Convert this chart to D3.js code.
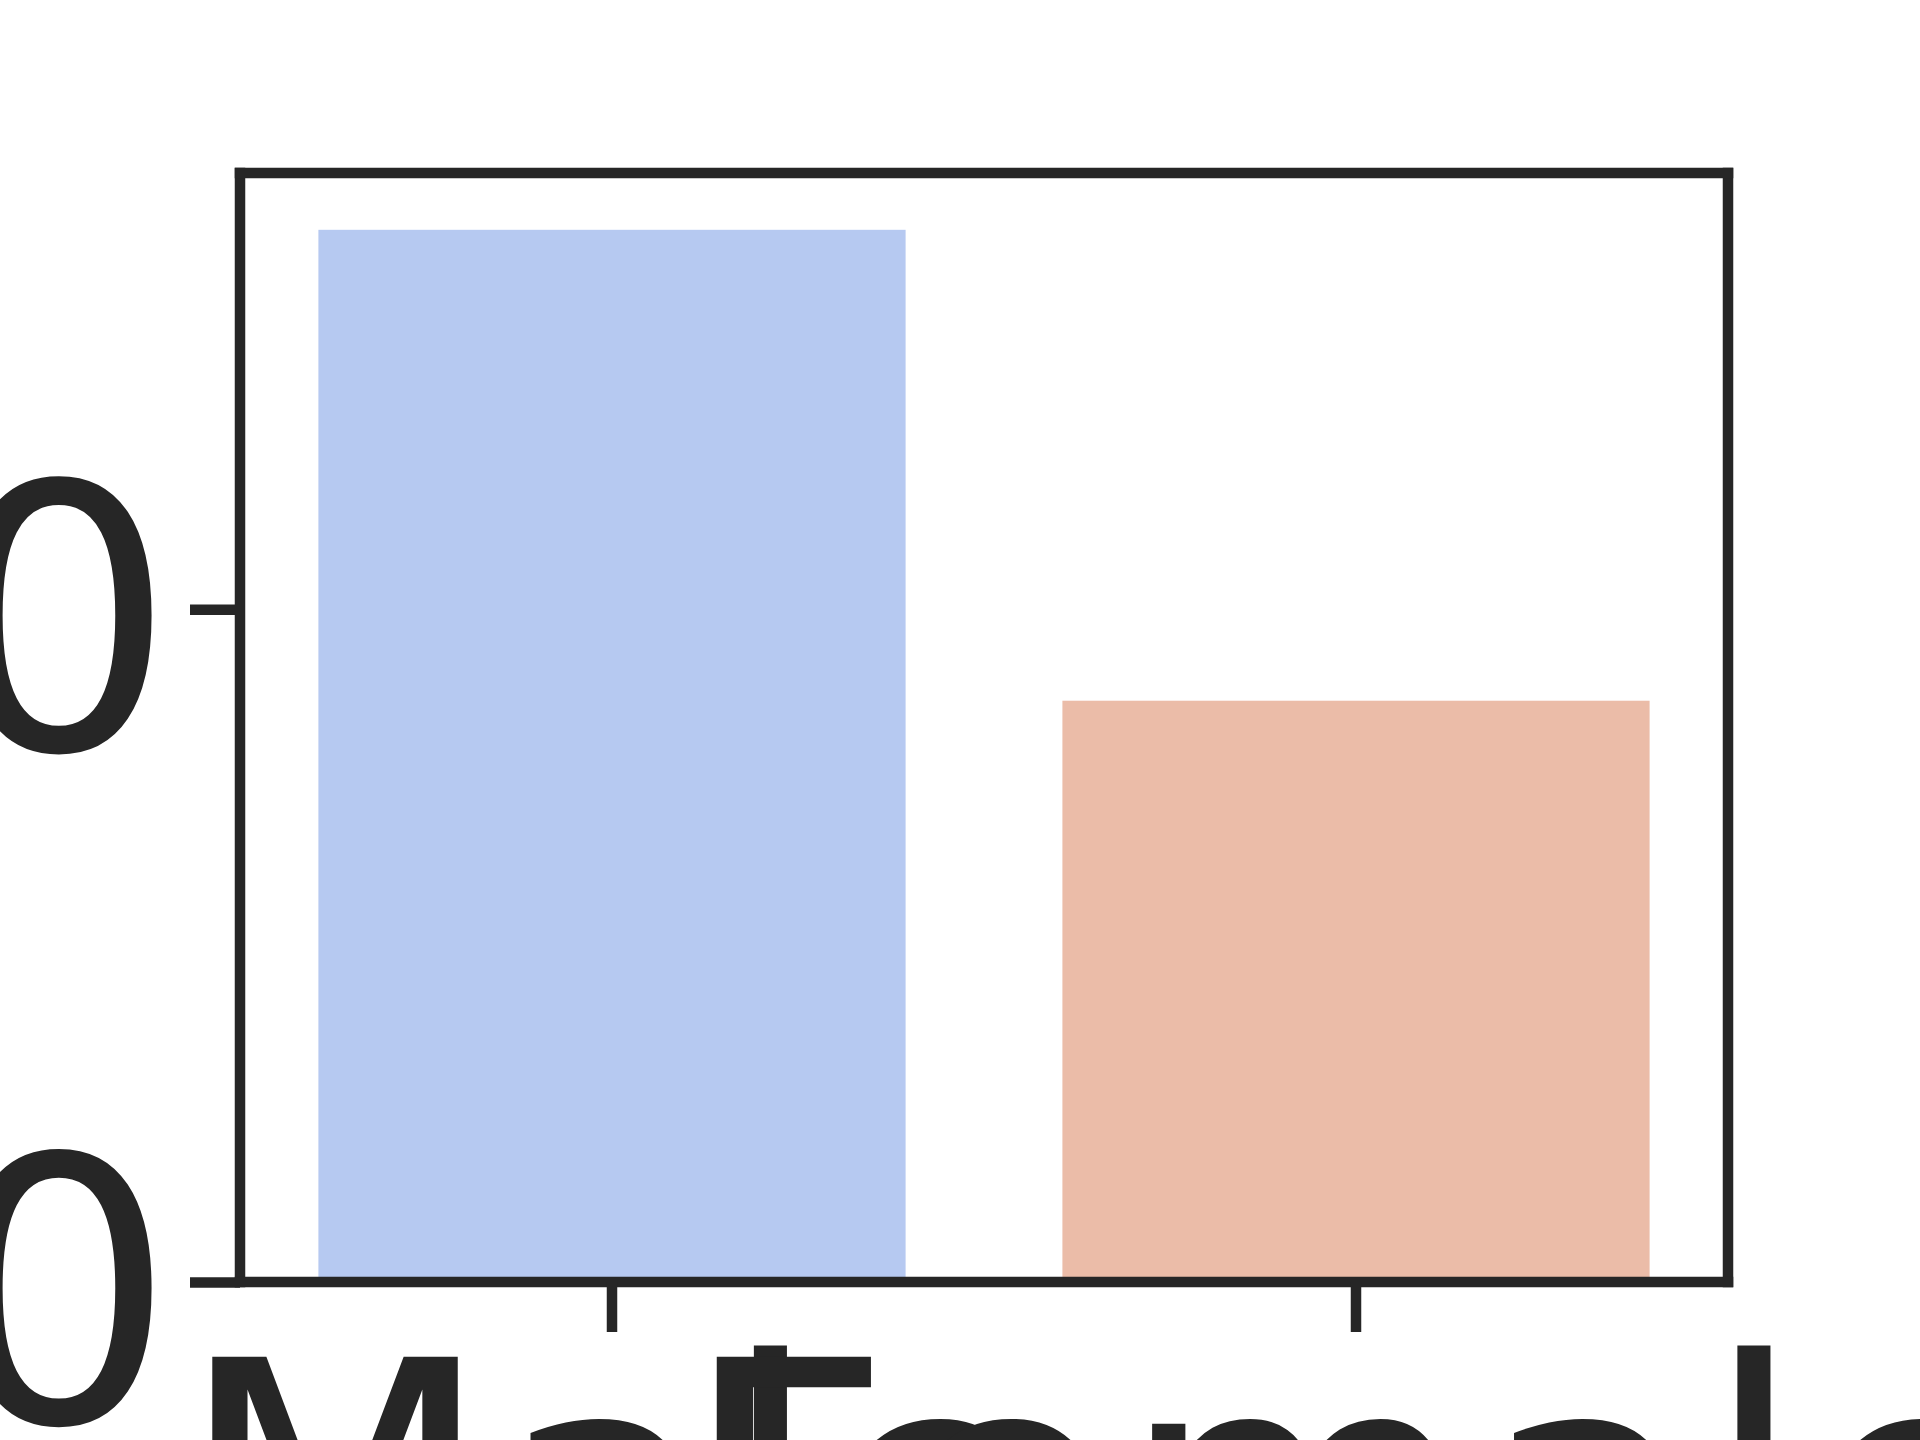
<!DOCTYPE html>
<html>
<head>
<meta charset="utf-8">
<script src="https://cdn.jsdelivr.net/npm/d3@7"></script>
<style>
  html, body { margin: 0; padding: 0; background: #ffffff; overflow: hidden; }
  svg { display: block; }
  text { font-kerning: none; font-feature-settings: "kern" 0; }
</style>
</head>
<body>
<div id="chart"></div>
<script>
// ---- data ----
const categories = ["Male", "Female"];
const counts = [157, 87];
const barColors = ["#b6c9f1", "#ebbca8"];
const yTickValues = [0, 100];

// ---- layout ----
const W = 1920, H = 1440;
const plot = { left: 240, right: 1728, top: 173, bottom: 1282 };
const ink = "#262626";
const fontSize = 368;
const lw = 10.5;

const svg = d3.select("#chart").append("svg")
  .attr("width", W).attr("height", H)
  .style("font-family", "'DejaVu Sans', sans-serif");

const x = d3.scaleBand()
  .domain(categories)
  .range([plot.left, plot.right])
  .paddingInner(0.2)
  .paddingOuter(0.1);

const yMax = d3.max(counts) * 1.05;
const y = d3.scaleLinear()
  .domain([0, yMax])
  .range([plot.bottom, plot.top]);

// bars
svg.append("g").selectAll("rect")
  .data(categories)
  .join("rect")
  .attr("x", d => x(d))
  .attr("width", x.bandwidth())
  .attr("y", (d, i) => y(counts[i]))
  .attr("height", (d, i) => y(0) - y(counts[i]))
  .attr("fill", (d, i) => barColors[i])
  .attr("stroke", "#ffffff")
  .attr("stroke-width", 8);

// spines (frame)
const frame = svg.append("g")
  .attr("stroke", ink)
  .attr("stroke-width", lw)
  .attr("stroke-linecap", "square")
  .attr("fill", "none");
frame.append("line").attr("x1", plot.left).attr("x2", plot.left).attr("y1", plot.top).attr("y2", plot.bottom);
frame.append("line").attr("x1", plot.right).attr("x2", plot.right).attr("y1", plot.top).attr("y2", plot.bottom);
frame.append("line").attr("x1", plot.left).attr("x2", plot.right).attr("y1", plot.top).attr("y2", plot.top);
frame.append("line").attr("x1", plot.left).attr("x2", plot.right).attr("y1", plot.bottom).attr("y2", plot.bottom);

// y axis
const yAxis = d3.axisLeft(y)
  .tickValues(yTickValues)
  .tickFormat(d3.format("d"))
  .tickSize(50)
  .tickPadding(14);
const gy = svg.append("g")
  .attr("transform", `translate(${plot.left},0)`)
  .call(yAxis);
gy.select(".domain").remove();
gy.selectAll(".tick line").attr("stroke", ink).attr("stroke-width", lw);
gy.selectAll(".tick text")
  .attr("fill", ink)
  .attr("font-size", fontSize)
  .attr("font-family", "'DejaVu Sans', sans-serif")
  .attr("dy", null)
  .attr("y", 139.5);

// x axis
const xAxis = d3.axisBottom(x)
  .tickSize(50)
  .tickPadding(0);
const gx = svg.append("g")
  .attr("transform", `translate(0,${plot.bottom})`)
  .call(xAxis);
gx.select(".domain").remove();
gx.selectAll(".tick line").attr("stroke", ink).attr("stroke-width", lw);
gx.selectAll(".tick text")
  .attr("fill", ink)
  .attr("font-size", fontSize)
  .attr("font-family", "'DejaVu Sans', sans-serif")
  .attr("dy", null)
  .attr("y", 343);
</script>
</body>
</html>
